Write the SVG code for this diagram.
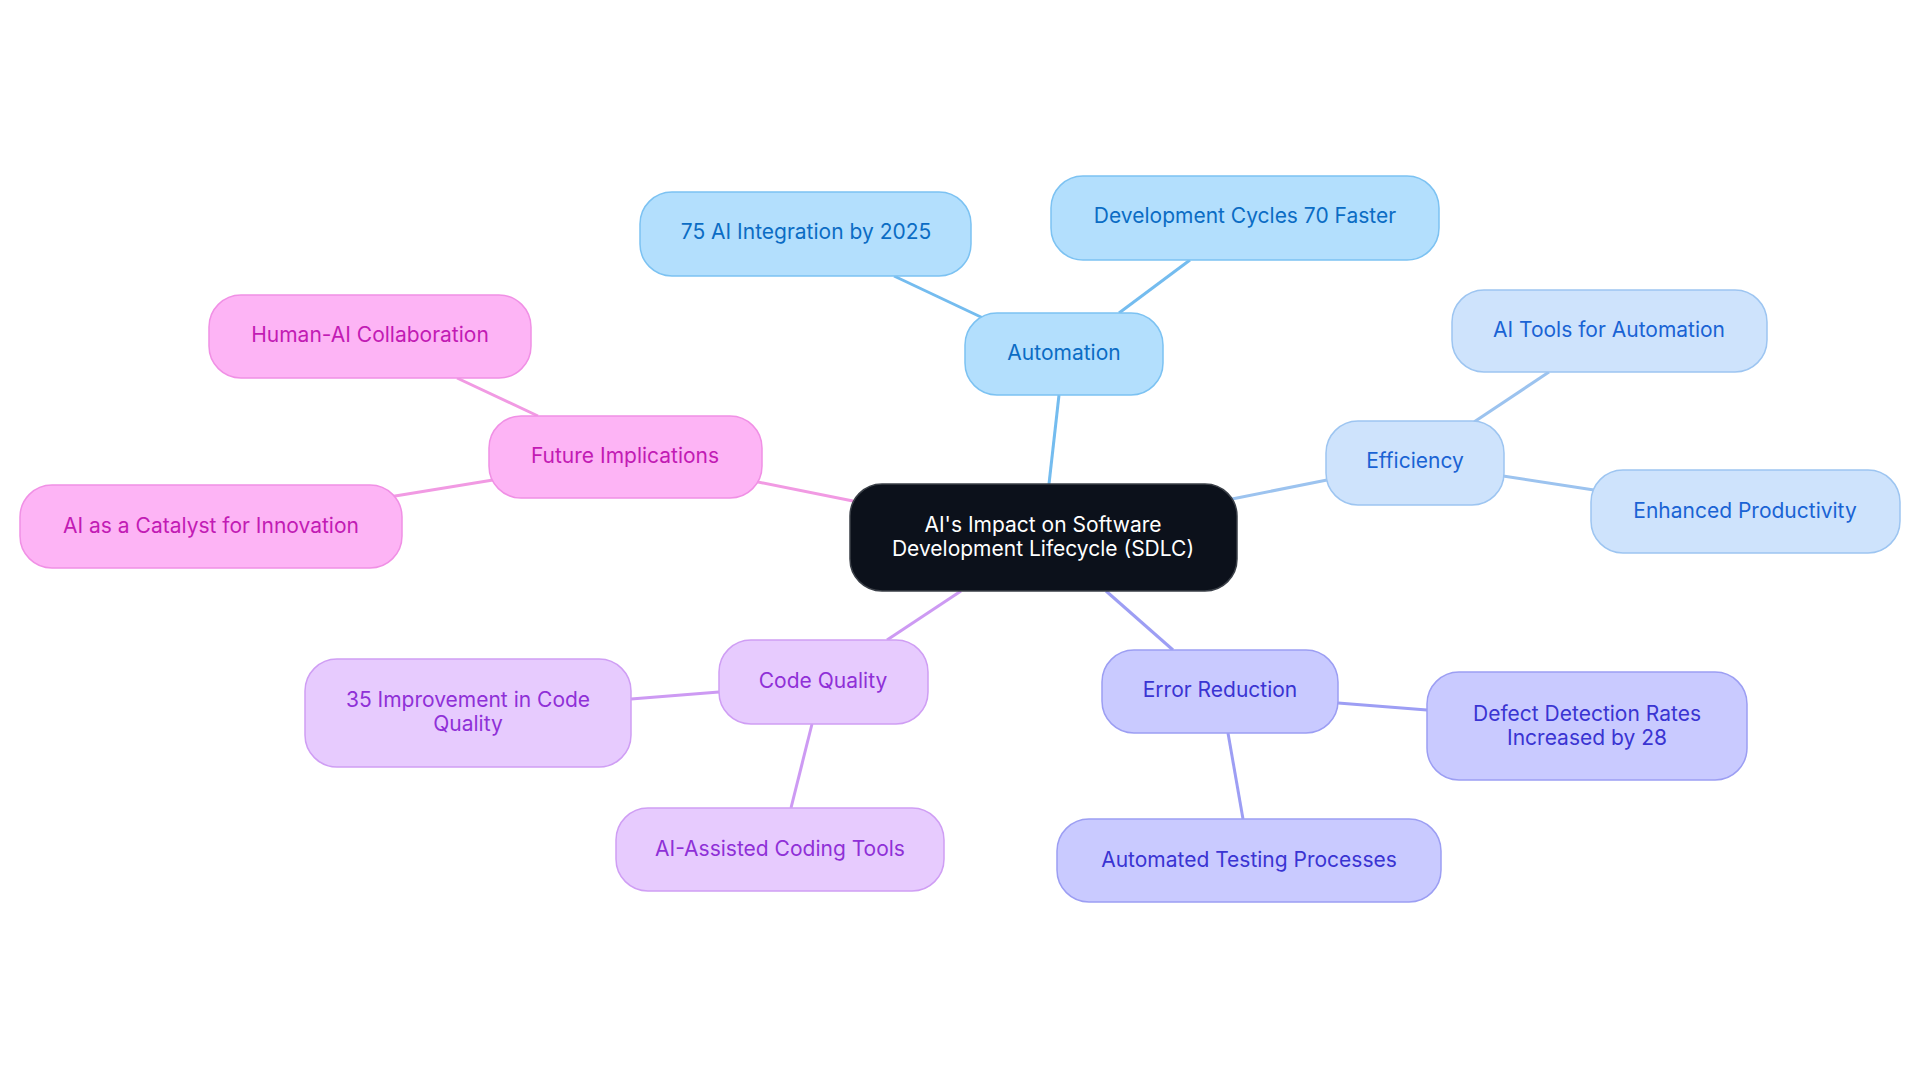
<svg xmlns="http://www.w3.org/2000/svg" width="1920" height="1083" viewBox="0 0 1920 1083">
<style>
text{font-family:Inter,"Noto Sans","Liberation Sans",sans-serif;font-size:21px;text-anchor:middle;dominant-baseline:central}
.c rect{fill:#0c111b;stroke:#3a3f47;stroke-width:1.5}
.c text{fill:#ffffff}
.a rect{fill:#b3dffd;stroke:#7cc2f2;stroke-width:1.5}
.a text{fill:#0b6cc4}
.e rect{fill:#cee3fc;stroke:#9dc5f1;stroke-width:1.5}
.e text{fill:#1a63d4}
.r rect{fill:#c9caff;stroke:#9c9ef3;stroke-width:1.5}
.r text{fill:#3a34d2}
.q rect{fill:#e7cbfe;stroke:#cf9ef4;stroke-width:1.5}
.q text{fill:#8f30d7}
.f rect{fill:#fdb4f5;stroke:#f090e5;stroke-width:1.5}
.f text{fill:#c21bb4}
#edges line{stroke-width:3;fill:none}
.la{stroke:#74bcef}.le{stroke:#9cc3ef}.lr{stroke:#9d9ef4}.lq{stroke:#cd9af3}.lf{stroke:#f19ae3}
</style>
<rect width="1920" height="1083" fill="#ffffff"/>
<g id="edges">
<line class="la" x1="1049" y1="484" x2="1059" y2="395"/>
<line class="la" x1="983" y1="318" x2="894" y2="276"/>
<line class="la" x1="1119" y1="313" x2="1190" y2="260"/>
<line class="le" x1="1232" y1="499" x2="1327" y2="480"/>
<line class="le" x1="1474" y1="422" x2="1549" y2="372"/>
<line class="le" x1="1503" y1="476" x2="1594" y2="490"/>
<line class="lr" x1="1106" y1="591" x2="1173" y2="650"/>
<line class="lr" x1="1338" y1="703" x2="1427" y2="710"/>
<line class="lr" x1="1228" y1="733" x2="1243" y2="819"/>
<line class="lq" x1="961" y1="591" x2="887" y2="640"/>
<line class="lq" x1="719" y1="692" x2="631" y2="699"/>
<line class="lq" x1="812" y1="724" x2="791" y2="808"/>
<line class="lf" x1="853" y1="501" x2="753" y2="481"/>
<line class="lf" x1="538" y1="416" x2="457" y2="378"/>
<line class="lf" x1="493" y1="480" x2="389" y2="497"/>
</g>
<g id="center" class="c"><rect x="850" y="484" width="387" height="107" rx="32"/><text x="1043" y="524">AI's Impact on Software</text><text x="1043" y="548">Development Lifecycle (SDLC)</text></g>
<g id="automation" class="a"><rect x="965" y="313" width="198" height="82" rx="32"/><text x="1064" y="352">Automation</text></g>
<g id="ai-integration" class="a"><rect x="640" y="192" width="331" height="84" rx="32"/><text x="806" y="231">75 AI Integration by 2025</text></g>
<g id="dev-cycles" class="a"><rect x="1051" y="176" width="388" height="84" rx="32"/><text x="1245" y="215">Development Cycles 70 Faster</text></g>
<g id="efficiency" class="e"><rect x="1326" y="421" width="178" height="84" rx="32"/><text x="1415" y="460">Efficiency</text></g>
<g id="ai-tools" class="e"><rect x="1452" y="290" width="315" height="82" rx="32"/><text x="1609" y="329">AI Tools for Automation</text></g>
<g id="enhanced" class="e"><rect x="1591" y="470" width="309" height="83" rx="32"/><text x="1745" y="510">Enhanced Productivity</text></g>
<g id="error-reduction" class="r"><rect x="1102" y="650" width="236" height="83" rx="32"/><text x="1220" y="689">Error Reduction</text></g>
<g id="defect" class="r"><rect x="1427" y="672" width="320" height="108" rx="32"/><text x="1587" y="713">Defect Detection Rates</text><text x="1587" y="737">Increased by 28</text></g>
<g id="auto-testing" class="r"><rect x="1057" y="819" width="384" height="83" rx="32"/><text x="1249" y="859">Automated Testing Processes</text></g>
<g id="code-quality" class="q"><rect x="719" y="640" width="209" height="84" rx="32"/><text x="823" y="680">Code Quality</text></g>
<g id="improvement" class="q"><rect x="305" y="659" width="326" height="108" rx="32"/><text x="468" y="699">35 Improvement in Code</text><text x="468" y="723">Quality</text></g>
<g id="ai-assisted" class="q"><rect x="616" y="808" width="328" height="83" rx="32"/><text x="780" y="848">AI-Assisted Coding Tools</text></g>
<g id="future" class="f"><rect x="489" y="416" width="273" height="82" rx="32"/><text x="625" y="455">Future Implications</text></g>
<g id="human-ai" class="f"><rect x="209" y="295" width="322" height="83" rx="32"/><text x="370" y="334">Human-AI Collaboration</text></g>
<g id="catalyst" class="f"><rect x="20" y="485" width="382" height="83" rx="32"/><text x="211" y="525">AI as a Catalyst for Innovation</text></g>
</svg>
